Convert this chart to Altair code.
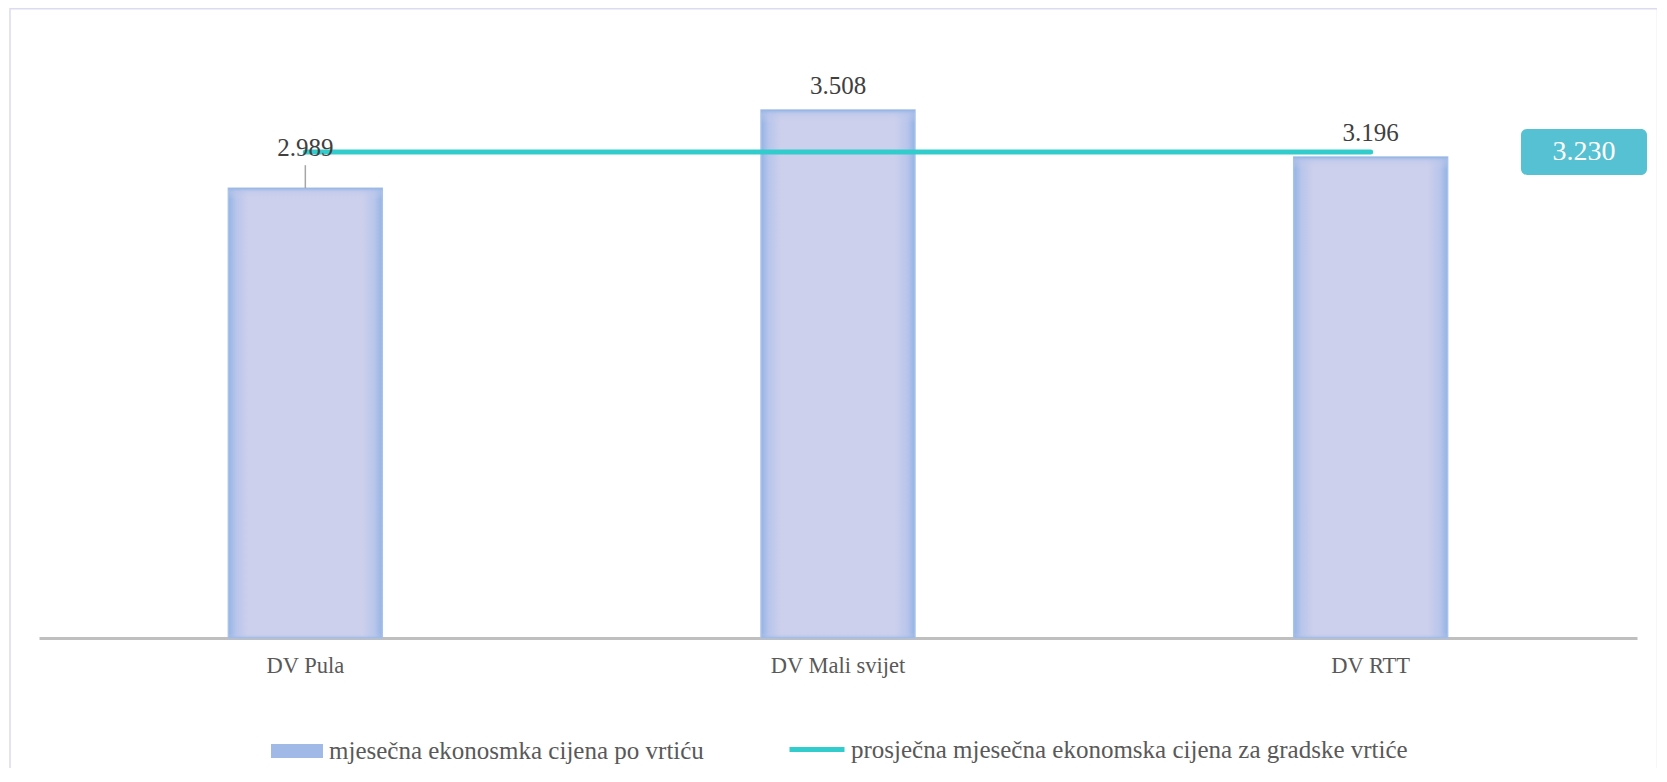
import altair as alt
import pandas as pd

# ---- data ----
categories = ["DV Pula", "DV Mali svijet", "DV RTT"]
monthly_price = [2989, 3508, 3196]
city_average = [3230, 3230, 3230]
series_bar = "mjesečna ekonosmka cijena po vrtiću"
series_line = "prosječna mjesečna ekonomska cijena za gradske vrtiće"

df = pd.DataFrame({
    "vrtic": categories,
    "cijena": monthly_price,
    "prosjek": city_average,
    "s_bar": [series_bar] * len(categories),
    "s_line": [series_line] * len(categories),
})

FONT = "Liberation Serif"
W, H = 1598, 602
LABEL_GRAY = "#595959"

x = alt.X(
    "vrtic:N", sort=categories,
    scale=alt.Scale(paddingInner=0.711, paddingOuter=0.3555),
    axis=alt.Axis(title=None, labelAngle=0, labelFont=FONT, labelFontSize=22.5,
                  labelColor=LABEL_GRAY, labelPadding=16, ticks=False,
                  domainColor="#BFBFBF", domainWidth=3, grid=False),
)
yscale = alt.Scale(domain=[0, 4000])
y = alt.Y("cijena:Q", scale=yscale, axis=None)
y_avg = alt.Y("prosjek:Q", scale=yscale, axis=None)

base = alt.Chart(df)
fmt = "replace(format({f}, ','), ',', '.')"

frame = base.transform_filter("datum.vrtic == 'DV Pula'").mark_rect(
    fillOpacity=0, stroke="#DCDAF0", strokeWidth=1.5
).encode(x=alt.value(-29), x2=alt.value(1618.5), y=alt.value(-27.3), y2=alt.value(800))

bar_legend = alt.Legend(
    orient="none", legendX=232, legendY=689, title=None, padding=0,
    symbolType="M-1,-0.27H1V0.27H-1Z", symbolSize=2704, symbolStrokeWidth=0,
    labelFont=FONT, labelFontSize=25, labelColor=LABEL_GRAY, labelOffset=6, labelLimit=900,
)
line_legend = alt.Legend(
    orient="none", legendX=748, legendY=683.5, title=None, padding=0,
    symbolType="stroke", symbolSize=3025, symbolStrokeWidth=5,
    labelFont=FONT, labelFontSize=25, labelColor=LABEL_GRAY, labelOffset=4, labelLimit=900,
)

bars_flat = base.mark_bar().encode(
    x=x, y=y,
    fill=alt.Fill("s_bar:N", scale=alt.Scale(domain=[series_bar], range=["#A0B9E7"]), legend=bar_legend),
)

gradient = alt.LinearGradient(
    gradient="linear", x1=0, x2=1, y1=0, y2=0,
    stops=[
        alt.GradientStop(color="#93B4E3", offset=0),
        alt.GradientStop(color="#B8C5EB", offset=0.05),
        alt.GradientStop(color="#CDD0EC", offset=0.13),
        alt.GradientStop(color="#CDD0EC", offset=0.87),
        alt.GradientStop(color="#B8C5EB", offset=0.95),
        alt.GradientStop(color="#93B4E3", offset=1),
    ],
)
top_glow = alt.LinearGradient(
    gradient="linear", x1=0, x2=0, y1=0, y2=1,
    stops=[
        alt.GradientStop(color="rgba(147,180,227,0.95)", offset=0),
        alt.GradientStop(color="rgba(184,197,235,0.5)", offset=0.008),
        alt.GradientStop(color="rgba(205,208,236,0)", offset=0.025),
        alt.GradientStop(color="rgba(205,208,236,0)", offset=0.99),
        alt.GradientStop(color="rgba(147,180,227,0.6)", offset=1),
    ],
)
bars = base.mark_bar(fill=gradient, stroke="#A8C2EA", strokeWidth=1.5).encode(x=x, y=y)
bars_top = base.mark_bar(fill=top_glow).encode(x=x, y=y)

leader = base.transform_filter("datum.vrtic == 'DV Pula'").mark_rule(
    color="#A6A6A6", strokeWidth=1.5, y2Offset=-23
).encode(x=x, y=y, y2=alt.Y2("cijena:Q"))

labels = base.transform_calculate(lbl=fmt.format(f="datum.cijena"))
text_style = dict(font=FONT, fontSize=25, color="#404040", align="center", baseline="middle")
labels_pula = labels.transform_filter("datum.vrtic == 'DV Pula'").mark_text(dy=-40, **text_style).encode(
    x=x, y=y, text="lbl:N")
labels_rest = labels.transform_filter("datum.vrtic != 'DV Pula'").mark_text(dy=-24, **text_style).encode(
    x=x, y=y, text="lbl:N")

avg_line = base.mark_line(strokeWidth=5, strokeCap="round").encode(
    x=x, y=y_avg,
    stroke=alt.Stroke("s_line:N", scale=alt.Scale(domain=[series_line], range=["#33CCCC"]), legend=line_legend),
)

one = base.transform_filter("datum.vrtic == 'DV RTT'").transform_calculate(lbl=fmt.format(f="datum.prosjek"))
badge = one.mark_rect(cornerRadius=6, fill="#56C1D3", yOffset=-23, y2Offset=23).encode(
    x=alt.value(1482), x2=alt.value(1608), y=y_avg, y2=alt.Y2("prosjek:Q"))
badge_text = one.mark_text(font=FONT, fontSize=28, color="white", align="center", baseline="middle").encode(
    x=alt.value(1545), y=y_avg, text="lbl:N")

chart = alt.layer(
    frame, bars_flat, bars, bars_top, leader, avg_line, labels_pula, labels_rest, badge, badge_text
).properties(
    width=W, height=H,
    padding={"left": 31, "top": 28, "right": 20, "bottom": 130},
    autosize=alt.AutoSizeParams(type="none"),
    background="white",
).configure_view(stroke=None)

chart.save("out.html", embed_options={"renderer": "svg", "actions": False})
